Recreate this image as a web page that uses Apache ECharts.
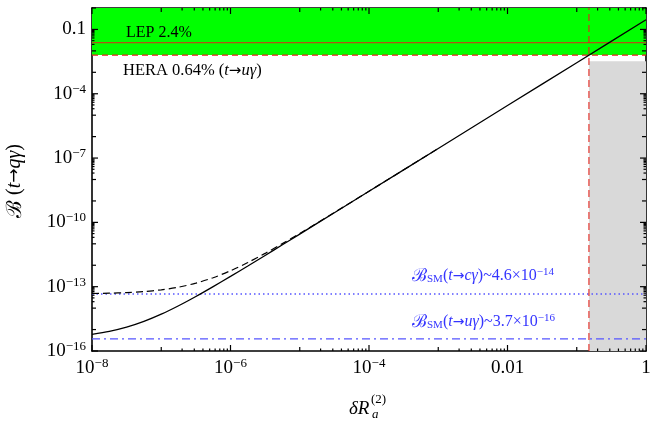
<!DOCTYPE html>
<html><head><meta charset="utf-8">
<script src="https://cdn.jsdelivr.net/npm/echarts@6/dist/echarts.min.js"></script>
<style>html,body{margin:0;padding:0;background:#fff}#c{width:650px;height:421px}</style>
</head><body><div id="c"></div>
<script>
// ---- data ----
const xSamples = [1e-8, 1.78e-8, 3.16e-8, 5.62e-8, 1e-7, 1.78e-7, 3.16e-7, 5.62e-7, 1e-6, 1.78e-6, 3.16e-6, 5.62e-6, 1e-5, 3.16e-5, 1e-4, 1e-3, 1e-2, 0.1, 1];
const brUp    = [6.0e-16, 8.2e-16, 1.29e-15, 2.40e-15, 5.21e-15, 1.29e-14, 3.49e-14, 1.01e-13, 3.02e-13, 9.26e-13, 2.87e-12, 8.99e-12, 2.83e-11, 2.82e-10, 2.81e-9, 2.81e-7, 2.81e-5, 2.81e-3, 0.281];
const brCharm = [4.81e-14, 4.99e-14, 5.33e-14, 5.94e-14, 7.13e-14, 9.51e-14, 1.46e-13, 2.62e-13, 5.54e-13, 1.34e-12, 3.57e-12, 1.02e-11, 3.04e-11, 2.88e-10, 2.83e-9, 2.81e-7];
const lepLimit = 0.024;
const heraLimit = 0.0064;
const smCharm = 4.6e-14;
const smUp = 3.7e-16;
const deltaRCut = 0.15;
const excludedTop = 3.3e-3;
const xRange = [1e-8, 1];
const yRange = [1e-16, 1];
const xMajorTicks = [1e-8, 1e-6, 1e-4, 1e-2, 1];
const xTickLabels = [['10', '\u22128'], ['10', '\u22126'], ['10', '\u22124'], ['0.01', ''], ['1', '']];
const yMajorTicks = [1e-16, 1e-13, 1e-10, 1e-7, 1e-4, 0.1];
const yTickLabels = [['10', '\u221216'], ['10', '\u221213'], ['10', '\u221210'], ['10', '\u22127'], ['10', '\u22124'], ['0.1', '']];

// ---- tick helpers (axis decoration, not data) ----
function decades(lo, hi) { const r = []; for (let e = lo; e <= hi; e++) r.push(Math.pow(10, e)); return r; }
function isIn(v, arr) { return arr.some(a => Math.abs(Math.log10(v) - Math.log10(a)) < 1e-6); }
const xMedium = decades(-8, 0).filter(v => !isIn(v, xMajorTicks));
const yMedium = decades(-16, 0).filter(v => !isIn(v, yMajorTicks));
function minorsBelow(majors, lo) {
  const r = [];
  majors.forEach(m => { for (let k = 2; k <= 9; k++) { const v = k * m / 10; if (v >= lo) r.push(v); } });
  return r;
}
const xMinor = minorsBelow(xMajorTicks, xRange[0]);
const yMinor = minorsBelow(yMajorTicks, yRange[0]);
const xTickData = xMajorTicks.map(v => [v, yRange[0], 6]).concat(xMedium.map(v => [v, yRange[0], 4]), xMinor.map(v => [v, yRange[0], 2.5]));
const yTickData = yMajorTicks.map(v => [xRange[0], v, 6]).concat(yMedium.map(v => [xRange[0], v, 4]), yMinor.map(v => [xRange[0], v, 2.5]));

const serif = '"Liberation Serif", "DejaVu Serif", serif';
const arrowFont = '"DejaVu Sans", sans-serif';
const richTick = {
  b: { fontFamily: serif, fontSize: 19, color: '#000', lineHeight: 22 },
  s: { fontFamily: serif, fontSize: 13, color: '#000', verticalAlign: 'top', lineHeight: 13 }
};
function fmt(values, labels) {
  return function (v) {
    for (let i = 0; i < values.length; i++) {
      if (Math.abs(Math.log10(v) - Math.log10(values[i])) < 1e-6) {
        const l = labels[i];
        return l[1] ? '{b|' + l[0] + '}{s|' + l[1] + '}' : '{b|' + l[0] + '}';
      }
    }
    return '';
  };
}
function axis(dim, position, withLabels) {
  const range = dim === 'x' ? xRange : yRange;
  const a = {
    type: 'log', logBase: 10, min: range[0], max: range[1], position: position,
    splitLine: { show: false },
    axisLine: { show: true, onZero: false, lineStyle: { color: '#000', width: 1.6 } },
    axisTick: { show: false },
    axisLabel: { show: false }
  };
  if (withLabels) {
    a.axisLabel = {
      show: true, customValues: dim === 'x' ? xMajorTicks : yMajorTicks,
      formatter: dim === 'x' ? fmt(xMajorTicks, xTickLabels) : fmt(yMajorTicks, yTickLabels),
      rich: richTick, margin: 6
    };
  }
  return a;
}

function hline(v) { return [[xRange[0], v], [xRange[1], v]]; }
const red = '#e3231c';
const blueLine = '#5555ff';
const blueText = '#3434ff';

function tickLine(x1, y1, x2, y2) {
  return { type: 'line', shape: { x1: x1, y1: y1, x2: x2, y2: y2 }, style: { stroke: '#000', lineWidth: 1.2 } };
}

const series = [
  { type: 'line', name: 'regions', data: [], z: 1, silent: true,
    markArea: { silent: true, data: [
      [{ xAxis: xRange[0], yAxis: heraLimit, itemStyle: { color: '#00ff00', opacity: 1 } }, { xAxis: xRange[1], yAxis: yRange[1] }],
      [{ xAxis: deltaRCut, yAxis: yRange[0], itemStyle: { color: '#d9d9d9', opacity: 1 } }, { xAxis: xRange[1], yAxis: excludedTop }]
    ] } },
  { type: 'line', name: 'LEP', data: hline(lepLimit), symbol: 'none', z: 3, lineStyle: { color: red, width: 1 } },
  { type: 'line', name: 'HERA', data: hline(heraLimit), symbol: 'none', z: 3, lineStyle: { color: red, width: 1.2, type: [6, 4] } },
  { type: 'line', name: 'SMc', data: hline(smCharm), symbol: 'none', z: 3, lineStyle: { color: blueLine, width: 1.5, type: [1.5, 3] } },
  { type: 'line', name: 'SMu', data: hline(smUp), symbol: 'none', z: 3, lineStyle: { color: blueLine, width: 1.3, type: [8, 4, 2, 4] } },
  { type: 'line', name: 'cut', data: [[deltaRCut, yRange[0]], [deltaRCut, yRange[1]]], symbol: 'none', z: 3, lineStyle: { color: red, width: 1.1, type: [7, 4] } },
  { type: 'line', name: 'tc', data: brCharm.map((v, i) => [xSamples[i], v]), symbol: 'none', smooth: 0.3, z: 4, lineStyle: { color: '#000', width: 1.2, type: [7, 4] } },
  { type: 'line', name: 'tu', data: brUp.map((v, i) => [xSamples[i], v]), symbol: 'none', smooth: 0.3, z: 5, lineStyle: { color: '#000', width: 1.3 } },
  { type: 'custom', name: 'xTicks', data: xTickData, z: 10, silent: true, clip: false,
    renderItem: function (params, api) {
      const v = api.value(0), len = api.value(2);
      const b = api.coord([v, yRange[0]]), t = api.coord([v, yRange[1]]);
      return { type: 'group', children: [tickLine(b[0], b[1], b[0], b[1] - len), tickLine(t[0], t[1], t[0], t[1] + len)] };
    } },
  { type: 'custom', name: 'yTicks', data: yTickData, z: 10, silent: true, clip: false,
    renderItem: function (params, api) {
      const v = api.value(1), len = api.value(2);
      const l = api.coord([xRange[0], v]), r = api.coord([xRange[1], v]);
      return { type: 'group', children: [tickLine(l[0], l[1], l[0] + len, l[1]), tickLine(r[0], r[1], r[0] - len, r[1])] };
    } }
];

const richAnn = {
  n: { fontFamily: serif, fontSize: 16.5, fill: '#000' },
  i: { fontFamily: serif, fontSize: 16.5, fontStyle: 'italic', fill: '#000' },
  a: { fontFamily: arrowFont, fontSize: 15, fill: '#000' }
};
function blueRich() {
  return {
    n: { fontFamily: serif, fontSize: 16, fill: blueText },
    i: { fontFamily: serif, fontSize: 16, fontStyle: 'italic', fill: blueText },
    a: { fontFamily: arrowFont, fontSize: 14, fill: blueText },
    B: { fontFamily: serif, fontSize: 18, fill: blueText },
    sub: { fontFamily: serif, fontSize: 11, fill: blueText, verticalAlign: 'bottom', lineHeight: 10 },
    sup: { fontFamily: serif, fontSize: 11, fill: blueText, verticalAlign: 'top', lineHeight: 10 }
  };
}

const graphic = [
  { type: 'text', x: 126, y: 33, z: 20, style: { text: 'LEP 2.4%', font: '16px ' + serif, fill: '#000', verticalAlign: 'middle' } },
  { type: 'text', x: 123, y: 71, z: 20, style: { text: '{n|HERA 0.64% (}{i|t}{a|\u2192}{i|u\u03b3}{n|)}', rich: richAnn, verticalAlign: 'middle' } },
  { type: 'text', x: 412, y: 276, z: 20, style: { text: '{B|\u212c}{sub|SM}{n|(}{i|t}{a|\u2192}{i|c\u03b3}{n|)~4.6\u00d710}{sup|\u221214}', rich: blueRich(), verticalAlign: 'middle' } },
  { type: 'text', x: 412, y: 322, z: 20, style: { text: '{B|\u212c}{sub|SM}{n|(}{i|t}{a|\u2192}{i|u\u03b3}{n|)~3.7\u00d710}{sup|\u221216}', rich: blueRich(), verticalAlign: 'middle' } },
  { type: 'text', x: 15, y: 181, rotation: Math.PI / 2, z: 20, style: {
      text: '{B|\u212c}{n| (}{i|t}{a|\u2192}{i|q\u03b3}{n|)}', align: 'center', verticalAlign: 'middle',
      rich: { B: { fontFamily: serif, fontSize: 21, fill: '#000' }, n: { fontFamily: serif, fontSize: 20, fill: '#000' }, i: { fontFamily: serif, fontSize: 20, fontStyle: 'italic', fill: '#000' }, a: { fontFamily: arrowFont, fontSize: 17, fill: '#000' } } } },
  { type: 'text', x: 349, y: 409, z: 20, style: { text: '\u03b4R', font: 'italic 19px ' + serif, fill: '#000', verticalAlign: 'middle' } },
  { type: 'text', x: 371, y: 400, z: 20, style: { text: '(2)', font: '13px ' + serif, fill: '#000', verticalAlign: 'middle' } },
  { type: 'text', x: 372, y: 415, z: 20, style: { text: 'a', font: 'italic 13px ' + serif, fill: '#000', verticalAlign: 'middle' } }
];

const chart = echarts.init(document.getElementById('c'));
chart.setOption({
  animation: false,
  backgroundColor: '#fff',
  grid: { left: 92, right: 4, top: 8, bottom: 70, containLabel: false, outerBoundsMode: 'none' },
  xAxis: [axis('x', 'bottom', true), axis('x', 'top', false)],
  yAxis: [axis('y', 'left', true), axis('y', 'right', false)],
  series: series,
  graphic: graphic
});
</script></body></html>
